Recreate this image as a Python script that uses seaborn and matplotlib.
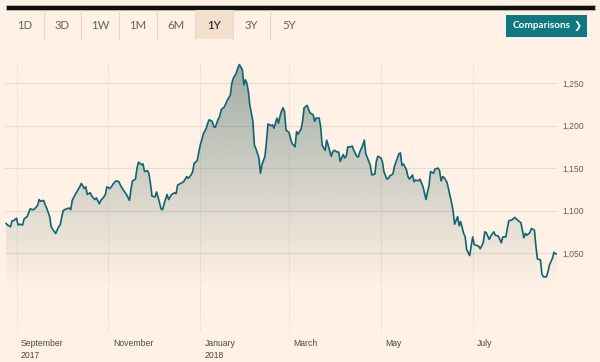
import matplotlib
matplotlib.use("Agg")
import matplotlib.pyplot as plt
import matplotlib.dates as mdates
import matplotlib.patches as patches
import matplotlib.ticker as ticker
from matplotlib.transforms import ScaledTranslation
import seaborn as sns
import pandas as pd
import numpy as np

# data: days since start date, closing level
start_date = "2017-08-25"
day_offsets = [
    0, 1, 3, 4, 5, 7, 8, 9, 11, 12, 14, 15, 16, 18, 19, 21, 22, 23, 25, 26,
    27, 29, 30, 31, 33, 35, 36, 37, 38, 40, 42, 43, 44, 46, 47, 49, 50, 52, 53, 54,
    56, 57, 59, 60, 62, 63, 65, 66, 67, 69, 70, 71, 73, 75, 76, 78, 80, 82, 83, 84,
    86, 87, 88, 90, 91, 92, 94, 95, 96, 97, 99, 100, 101, 103, 104, 105, 107, 108, 110, 112,
    113, 114, 116, 118, 120, 121, 123, 124, 125, 126, 127, 129, 130, 131, 133, 134, 135, 137, 138, 139,
    141, 142, 143, 145, 146, 147, 149, 150, 151, 153, 154, 155, 156, 157, 158, 159, 160, 161, 162, 164,
    165, 166, 168, 169, 170, 172, 173, 174, 176, 177, 178, 180, 181, 182, 183, 184, 185, 186, 188, 189,
    190, 192, 193, 194, 196, 197, 198, 200, 201, 202, 204, 205, 206, 208, 209, 210, 212, 213, 214, 216,
    217, 218, 220, 221, 222, 224, 225, 226, 227, 229, 230, 231, 233, 234, 235, 237, 238, 239, 241, 242,
    243, 245, 246, 247, 249, 250, 251, 253, 254, 255, 257, 258, 260, 261, 262, 263, 264, 266, 267, 268,
    270, 271, 272, 274, 275, 277, 279, 280, 281, 282, 284, 285, 287, 288, 289, 290, 291, 293, 294, 296,
    297, 298, 300, 301, 302, 304, 305, 306, 308, 310, 311, 314, 315, 317, 318, 319, 321, 322, 324, 325,
    327, 329, 330, 332, 333, 334, 336, 338, 339, 341, 342, 344, 345, 346, 348, 349, 350, 351, 352, 353,
    355, 356, 357, 359, 360, 361, 363, 364, 365, 366,
]
prices = [
    1085, 1083, 1081, 1088, 1088, 1091, 1083, 1084, 1083, 1090, 1093, 1097, 1102, 1101, 1102, 1106, 1113, 1111, 1112, 1107,
    1103, 1093, 1081, 1078, 1073, 1081, 1083, 1092, 1100, 1102, 1103, 1101, 1112, 1119, 1122, 1128, 1132, 1126, 1128, 1119,
    1121, 1117, 1113, 1115, 1108, 1112, 1116, 1119, 1128, 1126, 1128, 1131, 1135, 1134, 1130, 1124, 1119, 1112, 1125, 1135,
    1137, 1150, 1157, 1154, 1155, 1146, 1147, 1143, 1131, 1117, 1116, 1122, 1116, 1102, 1101, 1108, 1119, 1113, 1119, 1121,
    1120, 1130, 1132, 1134, 1140, 1138, 1142, 1146, 1156, 1157, 1159, 1177, 1183, 1190, 1197, 1203, 1207, 1205, 1199, 1198,
    1208, 1211, 1219, 1222, 1226, 1230, 1236, 1250, 1256, 1262, 1268, 1272, 1269, 1266, 1248, 1254, 1250, 1240, 1224, 1205,
    1177, 1173, 1162, 1144, 1154, 1164, 1181, 1202, 1200, 1201, 1197, 1209, 1203, 1211, 1217, 1221, 1217, 1195, 1192, 1185,
    1179, 1175, 1193, 1190, 1196, 1205, 1221, 1224, 1219, 1215, 1213, 1205, 1209, 1209, 1199, 1177, 1171, 1183, 1177, 1164,
    1169, 1171, 1169, 1169, 1158, 1166, 1162, 1164, 1175, 1175, 1176, 1171, 1164, 1163, 1169, 1177, 1183, 1167, 1158, 1153,
    1142, 1143, 1158, 1164, 1162, 1158, 1146, 1137, 1138, 1141, 1143, 1152, 1162, 1167, 1168, 1153, 1155, 1148, 1140, 1137,
    1142, 1134, 1136, 1135, 1137, 1128, 1113, 1122, 1130, 1146, 1144, 1149, 1150, 1147, 1135, 1140, 1139, 1133, 1125, 1109,
    1099, 1084, 1093, 1082, 1087, 1073, 1069, 1054, 1047, 1069, 1060, 1058, 1055, 1062, 1075, 1074, 1066, 1070, 1075, 1071,
    1070, 1062, 1069, 1069, 1079, 1088, 1089, 1092, 1090, 1087, 1086, 1068, 1073, 1071, 1074, 1079, 1078, 1077, 1058, 1043,
    1042, 1025, 1022, 1022, 1028, 1036, 1044, 1051, 1049, 1049,
]

month_ticks = ["2017-09-01", "2017-11-01", "2018-01-01", "2018-03-01", "2018-05-01", "2018-07-01"]
month_labels = ["September\n2017", "November", "January\n2018", "March", "May", "July"]
price_ticks = [1050, 1100, 1150, 1200, 1250]
periods = ["1D", "3D", "1W", "1M", "6M", "1Y", "3Y", "5Y"]
selected_period = "1Y"

BG = "#fff1e5"
LINE = "#0f6570"
FILL = "#33615f"

sns.set_theme(style="white")
plt.rcParams["font.family"] = ["Liberation Sans", "DejaVu Sans"]

df = pd.DataFrame({
    "date": pd.to_datetime(start_date) + pd.to_timedelta(day_offsets, unit="D"),
    "price": prices,
})

fig = plt.figure(figsize=(6, 3.62), dpi=100, facecolor=BG)
ax = fig.add_axes([5 / 600, 30 / 362, 552 / 600, 270 / 362])
ax.set_facecolor(BG)

y_lo, y_hi = 957, 1275

# gradient area under the line
x0 = mdates.date2num(df["date"].iloc[0])
x1 = mdates.date2num(df["date"].iloc[-1])
yy = np.linspace(y_lo, y_hi, 300)
alpha = np.clip((yy - 1010) / (y_hi - 1010), 0, 1) * 0.47
img = np.zeros((len(yy), 2, 4))
img[:, :, :3] = matplotlib.colors.to_rgb(FILL)
img[:, :, 3] = alpha[:, None]
area = ax.fill_between(df["date"], df["price"], y_lo, facecolor="none", edgecolor="none")
im = ax.imshow(img, extent=[x0, x1, y_lo, y_hi], origin="lower", aspect="auto", zorder=1)
im.set_clip_path(area.get_paths()[0], transform=ax.transData)

sns.lineplot(data=df, x="date", y="price", ax=ax, color=LINE, linewidth=1.2, zorder=3)

ax.set_xlim(df["date"].iloc[0] - pd.Timedelta(hours=16), df["date"].iloc[-1])
ax.set_ylim(y_lo, y_hi)
ax.set_xlabel("")
ax.set_ylabel("")
for s in ax.spines.values():
    s.set_visible(False)

ax.set_xticks(pd.to_datetime(month_ticks))
ax.set_xticklabels(month_labels, ha="left", linespacing=1.35)
ax.tick_params(axis="x", length=3.6, width=0.6, color="#cfc1b5", pad=1.5,
               labelsize=6.2, labelcolor="#4d4845")
offset = ScaledTranslation(4.5 / 100, 0, fig.dpi_scale_trans)
for lab in ax.get_xticklabels():
    lab.set_transform(lab.get_transform() + offset)

ax.yaxis.tick_right()
ax.set_yticks(price_ticks)
ax.yaxis.set_major_formatter(ticker.FuncFormatter(lambda v, pos: f"{v:,.0f}"))
ax.tick_params(axis="y", length=0, pad=3.6, labelsize=6.2, labelcolor="#66605c")

ax.xaxis.grid(True, linestyle=(0, (1, 1.5)), color="#d6c8bc", linewidth=0.6)
ax.yaxis.grid(True, color="#ecdcce", linewidth=0.8)

# top bar
fig.patches.append(patches.Rectangle((5.5 / 600, 1 - 10 / 362), 589.5 / 600, 5.3 / 362,
                                     transform=fig.transFigure, facecolor="#111111",
                                     edgecolor="#c9b7a6", linewidth=0.6))

# period tabs
tab_edges = [6, 43.7, 81.3, 119, 157, 194.7, 232.7, 270.3, 308]
for i, p in enumerate(periods):
    left, right = tab_edges[i], tab_edges[i + 1]
    if p == selected_period:
        fig.patches.append(patches.Rectangle((left / 600, 1 - 39 / 362), (right - left) / 600, 29 / 362,
                                             transform=fig.transFigure, facecolor="#f2dfcc",
                                             edgecolor="none"))
    fig.text((left + right) / 2 / 600, 1 - 25.5 / 362, p, ha="center", va="center",
             fontsize=8.2, family=["Lato", "DejaVu Sans"],
             color="#33302e" if p == selected_period else "#66605c",
             fontweight="semibold" if p == selected_period else "normal")
for xe in tab_edges[1:-1]:
    fig.add_artist(plt.Line2D([xe / 600, xe / 600], [1 - 39 / 362, 1 - 10 / 362],
                              transform=fig.transFigure, color="#e8d6c6", linewidth=0.8))

# comparisons button
fig.patches.append(patches.Rectangle((505.7 / 600, 1 - 36.7 / 362), 81.6 / 600, 22 / 362,
                                     transform=fig.transFigure, facecolor="#0f7880",
                                     edgecolor="none"))
fig.text(512.5 / 600, 1 - 25.7 / 362, "Comparisons", ha="left", va="center",
         fontsize=7.2, fontweight="bold", color="white", family=["Lato", "DejaVu Sans"])
fig.text(578 / 600, 1 - 25.7 / 362, "\u276f", ha="center", va="center",
         fontsize=7, fontweight="bold", color="white", family=["DejaVu Sans"])

fig.savefig("out.png", dpi=100, facecolor=BG)
